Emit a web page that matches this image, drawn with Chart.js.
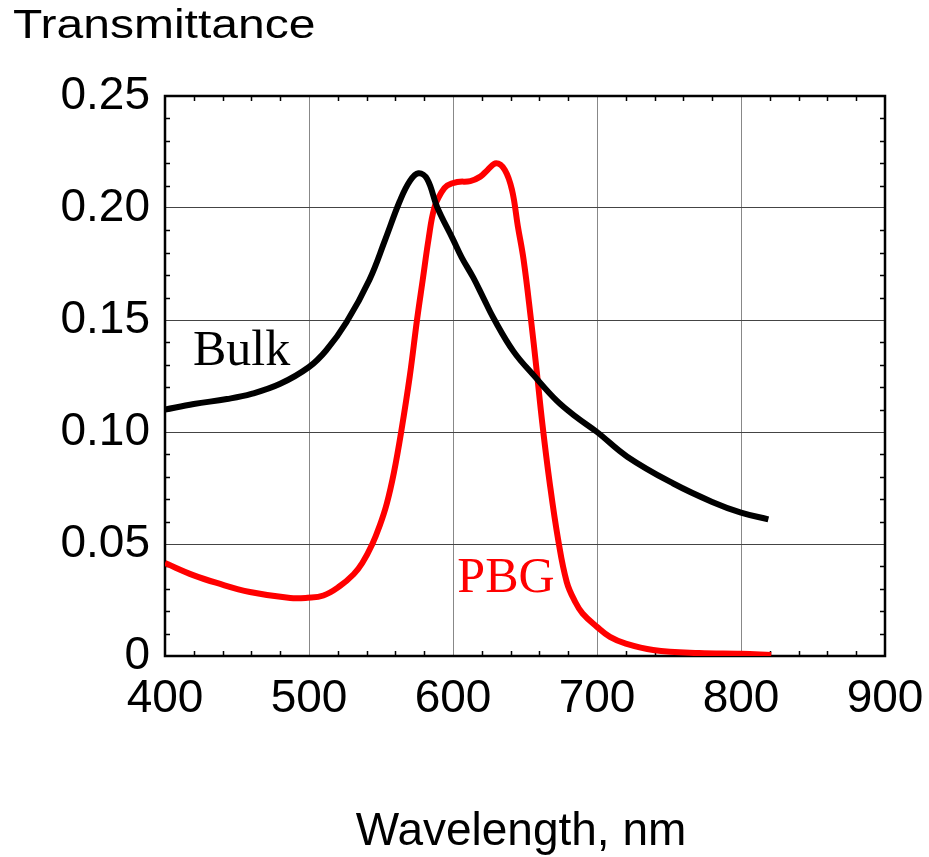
<!doctype html>
<html lang="en">
  <head>
    <meta charset="utf-8">
    <title>Transmittance vs Wavelength</title>
    <script src="https://cdn.jsdelivr.net/npm/chart.js"></script>
    <style>
      body { margin: 0; background: #fff; }
    </style>
  </head>
  <body>
    <canvas id="specChart" width="929" height="857"></canvas>

    <script>
      // Bulk sample (black curve)
      var bulkWl = [400, 420, 443, 460, 480, 500, 512, 526, 542, 553, 563, 570, 576, 582, 589, 600, 606, 614, 621, 628, 642, 657, 672, 685, 700, 721, 753, 780, 800, 819];
      var bulkT  = [0.110, 0.1125, 0.1147, 0.117, 0.1215, 0.129, 0.1365, 0.149, 0.168, 0.186, 0.203, 0.212, 0.2155, 0.213, 0.2004, 0.186, 0.178, 0.169, 0.160, 0.151, 0.136, 0.1246, 0.114, 0.107, 0.100, 0.089, 0.077, 0.0688, 0.064, 0.061];

      // Photonic band gap sample (red curve)
      var pbgWl = [400, 420, 436, 459, 487, 499, 510, 521, 531, 537, 544, 549, 554, 559, 564, 570, 575, 579, 583, 587, 592, 596, 603, 612, 619, 624, 630, 636, 641, 645, 649, 654, 658, 662, 667, 673, 679, 685, 690, 700, 709, 720, 739, 771, 800, 821];
      var pbgT  = [0.0415, 0.036, 0.0326, 0.0286, 0.0259, 0.026, 0.027, 0.031, 0.0365, 0.0415, 0.050, 0.058, 0.068, 0.082, 0.100, 0.125, 0.150, 0.168, 0.186, 0.200, 0.207, 0.210, 0.2116, 0.212, 0.214, 0.217, 0.220, 0.217, 0.208, 0.192, 0.177, 0.151, 0.128, 0.104, 0.078, 0.052, 0.033, 0.024, 0.019, 0.013, 0.0085, 0.0055, 0.0027, 0.0013, 0.001, 0.0005];

      // axis ticks
      var xTicks = [400, 500, 600, 700, 800, 900];
      var yTicks = [0, 0.05, 0.10, 0.15, 0.20, 0.25];

      function toPoints(xs, ys) {
        return xs.map(function (x, i) { return { x: x, y: ys[i] }; });
      }

      var sansFont = "'Liberation Sans', Arial, sans-serif";
      var serifFont = "'Liberation Serif', 'Times New Roman', serif";

      // frame, inner minor ticks, axis titles and curve labels
      var framePlugin = {
        id: "frame",
        beforeDatasetsDraw: function (chart) {
          var ctx = chart.ctx;
          var a = chart.chartArea;
          var xs = chart.scales.x, ys = chart.scales.y;
          ctx.save();
          ctx.strokeStyle = "#000";
          ctx.lineWidth = 1.5;
          ctx.beginPath();
          for (var w = 420; w < 900; w += 20) {
            if (w % 100 === 0) continue;
            var px = Math.round(xs.getPixelForValue(w)) + 0.5;
            ctx.moveTo(px, a.top); ctx.lineTo(px, a.top + 5);
            ctx.moveTo(px, a.bottom); ctx.lineTo(px, a.bottom - 5);
          }
          for (var k = 1; k < 25; k++) {
            if (k % 5 === 0) continue;
            var py = Math.round(ys.getPixelForValue(k * 0.01)) + 0.5;
            ctx.moveTo(a.left, py); ctx.lineTo(a.left + 5, py);
            ctx.moveTo(a.right, py); ctx.lineTo(a.right - 5, py);
          }
          ctx.stroke();
          ctx.lineWidth = 2.5;
          ctx.strokeRect(a.left, a.top, a.right - a.left, a.bottom - a.top);
          ctx.restore();
        },
        afterDraw: function (chart) {
          var ctx = chart.ctx;
          var xs = chart.scales.x, ys = chart.scales.y;
          ctx.save();
          ctx.fillStyle = "#000";
          ctx.textBaseline = "alphabetic";
          ctx.font = "40px " + sansFont;
          ctx.textAlign = "left";
          ctx.save();
          ctx.translate(13, 38);
          ctx.scale(1.2, 1);
          ctx.fillText("Transmittance", 0, 0);
          ctx.restore();
          ctx.font = "46px " + sansFont;
          ctx.textAlign = "center";
          ctx.fillText("Wavelength, nm", 521, 845);

          ctx.font = "50px " + serifFont;
          ctx.textAlign = "left";
          ctx.fillText("Bulk", xs.getPixelForValue(419.4), ys.getPixelForValue(0.1299));
          ctx.fillStyle = "#ff0000";
          ctx.fillText("PBG", xs.getPixelForValue(603), ys.getPixelForValue(0.0286));
          ctx.restore();
        }
      };

      var ctx = document.getElementById("specChart").getContext("2d");
      var myChart = new Chart(ctx, {
        type: "scatter",
        data: {
          datasets: [
            {
              label: "Bulk",
              data: toPoints(bulkWl, bulkT),
              showLine: true,
              borderColor: "#000000",
              borderWidth: 6,
              pointRadius: 0,
              tension: 0.4,
              fill: false
            },
            {
              label: "PBG",
              data: toPoints(pbgWl, pbgT),
              showLine: true,
              borderColor: "#ff0000",
              borderWidth: 6,
              pointRadius: 0,
              tension: 0.4,
              fill: false
            }
          ]
        },
        options: {
          responsive: false,
          animation: false,
          layout: { padding: { top: 96, right: 44, left: 0, bottom: 0 } },
          plugins: {
            legend: { display: false },
            tooltip: { enabled: false }
          },
          scales: {
            x: {
              type: "linear",
              min: 400,
              max: 900,
              afterBuildTicks: function (s) { s.ticks = xTicks.map(function (v) { return { value: v }; }); },
              afterFit: function (s) {
                s.height = 201;
                s.paddingLeft = 0;
                s.paddingRight = 0;
              },
              ticks: {
                color: "#000",
                padding: 16,
                maxRotation: 0,
                font: { family: sansFont, size: 46 }
              },
              grid: { color: "#888888", lineWidth: 1, drawTicks: false },
              border: { display: false }
            },
            y: {
              min: 0,
              max: 0.25,
              afterBuildTicks: function (s) { s.ticks = yTicks.map(function (v) { return { value: v }; }); },
              afterFit: function (s) { s.width = 165; },
              ticks: {
                color: "#000",
                padding: 15,
                font: { family: sansFont, size: 46 },
                callback: function (v) { return v === 0 ? "0" : v.toFixed(2); }
              },
              grid: { color: "#444444", lineWidth: 1, drawTicks: false },
              border: { display: false }
            }
          }
        },
        plugins: [framePlugin]
      });
    </script>
  </body>
</html>
